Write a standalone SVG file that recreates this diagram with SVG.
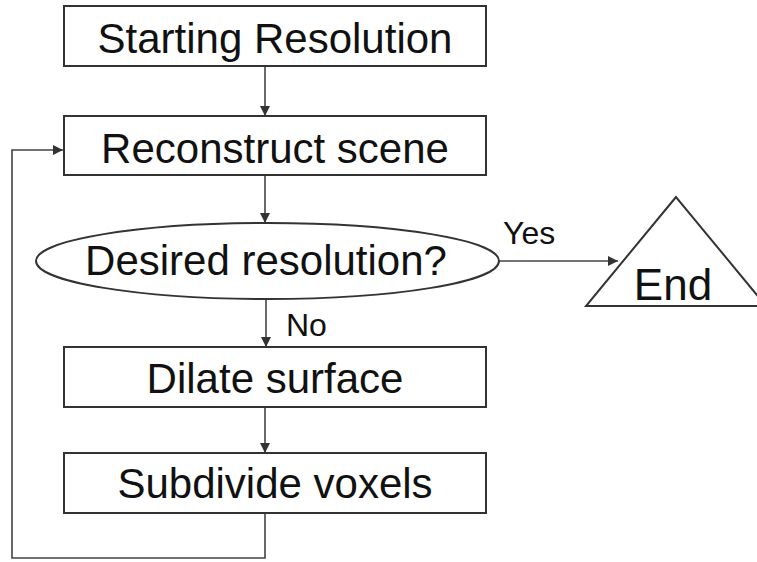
<svg xmlns="http://www.w3.org/2000/svg" width="757" height="562" viewBox="0 0 757 562">
<defs>
<style>
.box{fill:#fff;stroke:#333;stroke-width:2}
.lbl{font-family:"Liberation Sans",Arial,sans-serif;font-size:42px;fill:#111;text-anchor:middle}
.small{font-family:"Liberation Sans",Arial,sans-serif;font-size:32px;fill:#111}
.conn{fill:none;stroke:#444;stroke-width:1.6}
</style>
<marker id="ah" viewBox="0 0 10 10" refX="10" refY="5" markerWidth="10" markerHeight="10" markerUnits="userSpaceOnUse" orient="auto">
<path d="M0,0 L10,5 L0,10 z" fill="#333"/>
</marker>
</defs>
<rect width="757" height="562" fill="#fff"/>
<g id="connectors">
<line class="conn" x1="265" y1="66" x2="265" y2="116" marker-end="url(#ah)"/>
<line class="conn" x1="265" y1="175" x2="265" y2="223" marker-end="url(#ah)"/>
<line class="conn" x1="266" y1="298" x2="266" y2="347" marker-end="url(#ah)"/>
<line class="conn" x1="265" y1="407" x2="265" y2="453" marker-end="url(#ah)"/>
<polyline class="conn" points="265,513 265,558 12,558 12,150 63,150" marker-end="url(#ah)"/>
<line class="conn" x1="499" y1="261" x2="618" y2="261" marker-end="url(#ah)"/>
<text class="small" x="503" y="244">Yes</text>
<text class="small" x="286" y="336">No</text>
</g>
<g id="start">
<rect class="box" x="64" y="6" width="422" height="60"/>
<text class="lbl" x="275" y="53">Starting Resolution</text>
</g>
<g id="reconstruct">
<rect class="box" x="64" y="116" width="422" height="59"/>
<text class="lbl" x="275" y="163">Reconstruct scene</text>
</g>
<g id="decision">
<ellipse class="box" cx="267.5" cy="261" rx="231.5" ry="38"/>
<text class="lbl" x="266" y="275">Desired resolution?</text>
</g>
<g id="end">
<polygon class="box" points="676,197 586,306 766,306"/>
<text class="lbl" x="673" y="300" style="font-size:44px">End</text>
</g>
<g id="dilate">
<rect class="box" x="64" y="347" width="422" height="60"/>
<text class="lbl" x="275" y="393">Dilate surface</text>
</g>
<g id="subdivide">
<rect class="box" x="64" y="453" width="422" height="60"/>
<text class="lbl" x="275" y="498">Subdivide voxels</text>
</g>
</svg>
